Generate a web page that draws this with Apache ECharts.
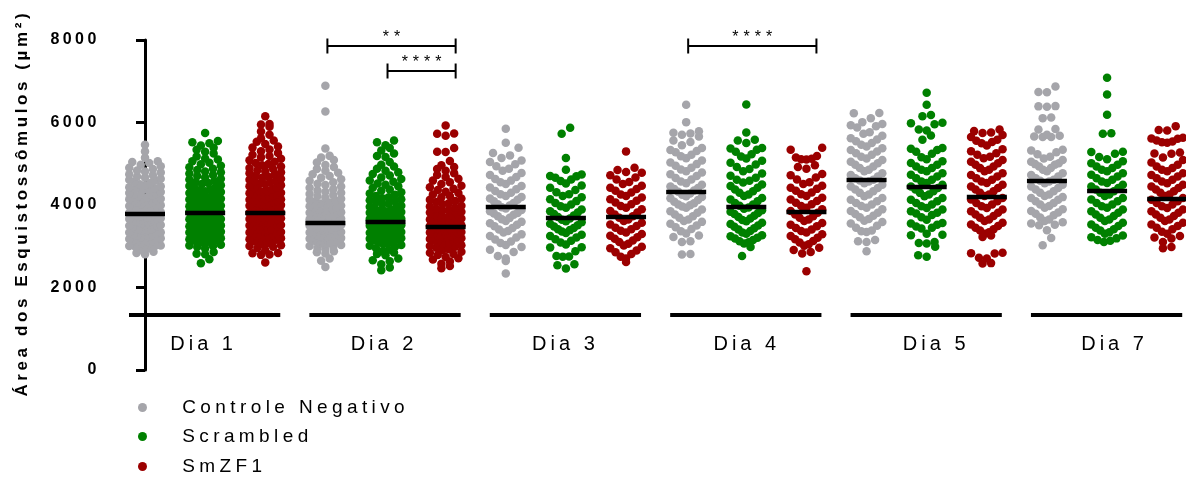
<!DOCTYPE html>
<html><head><meta charset="utf-8">
<script src="https://cdn.jsdelivr.net/npm/echarts@6/dist/echarts.min.js"></script>
<style>html,body{margin:0;padding:0;background:#fff}#c{width:1186px;height:477px}</style>
</head><body><div id="c"></div><script>
// ---------- DATA ----------
const days = ['Dia 1','Dia 2','Dia 3','Dia 4','Dia 5','Dia 7'];
const treatments = ['Controle Negativo','Scrambled','SmZF1'];
const yTicks = [0,2000,4000,6000,8000];

const ctrl_d1 = [2807,2838,2866,2912,2947,2979,2993,3006,3021,3044,3058,3087,3103,3119,3142,3158,3177,3196,3203,3224,3237,3259,3268,3291,3306,3333,3341,3362,3379,3397,3401,3417,3428,3452,3463,3484,3498,3517,3529,3553,3561,3582,3596,3604,3618,3627,3648,3659,3676,3688,3707,3719,3738,3748,3767,3779,3797,3812,3822,3843,3857,3878,3889,3913,3921,3948,3958,3977,3992,4011,4027,4043,4063,4078,4102,4113,4138,4149,4172,4188,4212,4228,4253,4271,4293,4318,4347,4362,4391,4406,4428,4457,4481,4503,4532,4558,4591,4612,4637,4668,4689,4722,4748,4786,4813,4838,4872,4903,4942,4978,5021,5041,5062,5147,5300,5462];
const scr_d1 = [2590,2686,2807,2818,2861,2944,2981,3004,3019,3036,3062,3088,3112,3133,3151,3171,3192,3207,3223,3244,3262,3281,3301,3317,3336,3351,3372,3389,3405,3418,3439,3454,3471,3487,3506,3521,3541,3555,3575,3591,3602,3619,3632,3652,3663,3681,3696,3713,3727,3746,3759,3777,3793,3806,3822,3837,3856,3869,3887,3901,3921,3935,3953,3969,3989,4007,4027,4041,4062,4077,4097,4113,4134,4151,4171,4187,4211,4232,4249,4269,4289,4313,4333,4357,4379,4411,4431,4459,4479,4507,4532,4559,4584,4616,4639,4669,4701,4729,4766,4791,4811,4846,4879,4916,4949,4986,5022,5058,5101,5129,5176,5251,5292,5338,5386,5441,5498,5521,5549,5743];
const smz_d1 = [2606,2791,2801,2829,2836,2902,2958,2986,3007,3026,3049,3071,3094,3113,3129,3156,3169,3193,3204,3221,3237,3257,3274,3291,3311,3331,3347,3367,3383,3399,3406,3417,3437,3449,3469,3484,3501,3518,3535,3551,3567,3582,3598,3603,3618,3631,3649,3660,3678,3689,3707,3721,3739,3753,3771,3785,3799,3809,3821,3840,3852,3869,3883,3901,3916,3934,3947,3965,3979,3997,4006,4023,4039,4057,4071,4091,4107,4126,4141,4161,4177,4196,4209,4225,4246,4261,4283,4299,4322,4339,4361,4384,4411,4431,4456,4477,4501,4523,4549,4571,4596,4613,4637,4663,4687,4713,4739,4769,4791,4816,4841,4871,4899,4933,4961,4991,5019,5049,5086,5119,5156,5187,5216,5259,5301,5344,5391,5421,5479,5531,5566,5621,5702,5784,5899,5953,5961,6154];

const ctrl_d2 = [2500,2651,2703,2824,2852,2879,2921,2956,2991,3008,3029,3053,3072,3096,3117,3139,3161,3179,3197,3112,3066,3205,3222,3239,3259,3275,3295,3309,3331,3347,3366,3381,3398,3288,3406,3421,3434,3453,3465,3483,3496,3513,3527,3546,3559,3576,3591,3608,3623,3641,3656,3673,3689,3709,3724,3743,3759,3779,3794,3811,3827,3847,3865,3885,3904,3926,3944,3967,3987,4012,4035,4059,4081,4106,4129,4153,4177,4216,4241,4267,4296,4321,4351,4379,4421,4451,4486,4517,4553,4587,4626,4661,4701,4746,4784,4831,4874,4921,4969,5031,5089,5151,5191,5372,6268,6890];
const scr_d2 = [2420,2483,2561,2638,2662,2701,2783,2811,2846,2881,2914,2951,2986,3011,3029,3052,3071,3095,3114,3138,3157,3179,3195,3206,3223,3241,3257,3276,3292,3312,3328,3347,3363,3382,3396,3404,3418,3435,3449,3466,3480,3498,3511,3529,3543,3561,3575,3593,3607,3624,3639,3658,3673,3693,3709,3729,3745,3765,3781,3797,3813,3829,3851,3869,3891,3911,3935,3955,3979,4016,4039,4065,4089,4116,4139,4166,4189,4221,4249,4281,4309,4343,4374,4421,4454,4491,4524,4561,4594,4631,4669,4713,4754,4791,4831,4879,4931,4976,5041,5163,5188,5251,5321,5379,5449,5521,5566];
const smz_d2 = [2468,2521,2574,2631,2679,2711,2739,2789,2812,2841,2869,2901,2929,2961,2989,3006,3025,3041,3061,3079,3101,3117,3138,3155,3176,3193,3204,3218,3236,3250,3268,3282,3301,3315,3333,3348,3367,3381,3398,3405,3422,3437,3456,3471,3491,3507,3527,3543,3563,3579,3597,3611,3629,3651,3670,3693,3712,3736,3756,3780,3797,3816,3837,3863,3885,3911,3934,3961,3984,4019,4044,4073,4099,4129,4155,4186,4221,4254,4291,4324,4361,4391,4431,4469,4511,4549,4591,4636,4679,4726,4769,4831,4874,4921,4964,5065,5283,5291,5380,5680,5728,5736,5929];

const ctrl_d3 = [2340,2641,2703,2762,2863,2918,2984,3029,3081,3118,3166,3214,3251,3288,3331,3372,3408,3444,3482,3519,3556,3591,3613,3652,3688,3726,3761,3792,3809,3846,3879,3917,3948,3986,4016,4049,4091,4126,4158,4194,4221,4262,4298,4341,4379,4422,4463,4512,4553,4591,4629,4681,4729,4778,4831,4879,4942,4989,5042,5081,5138,5203,5262,5389,5510,5849];
const scr_d3 = [2461,2541,2561,2743,2751,2762,2880,2969,2977,3041,3089,3131,3172,3211,3246,3281,3319,3356,3391,3411,3441,3476,3509,3546,3581,3606,3641,3674,3711,3746,3779,3816,3851,3889,3931,3969,4011,4051,4094,4141,4186,4216,4261,4309,4361,4421,4471,4524,4579,4621,4659,4694,4701,4741,4857,5138,5728,5873];
const smz_d3 = [2621,2701,2743,2811,2852,2899,2951,2989,3021,3059,3101,3139,3181,3216,3254,3296,3334,3376,3411,3449,3491,3529,3571,3611,3649,3691,3729,3771,3816,3854,3896,3934,3976,4021,4059,4101,4139,4181,4216,4254,4301,4344,4389,4421,4464,4511,4556,4621,4669,4721,4779,4801,4851,4905,5300];

const ctrl_d4 = [2800,2812,3105,3121,3226,3262,3309,3361,3421,3459,3501,3544,3591,3611,3649,3691,3729,3771,3814,3851,3889,3931,3964,3996,4011,4044,4081,4119,4161,4194,4211,4246,4279,4321,4354,4389,4411,4449,4491,4529,4571,4616,4654,4701,4744,4789,4821,4859,4906,4949,4991,5031,5079,5131,5179,5221,5279,5307,5331,5379,5451,5525,5561,5661,5701,5735,5751,5789,6009,6430];
const scr_d4 = [2766,2984,3066,3099,3121,3151,3189,3209,3241,3268,3301,3332,3371,3409,3439,3471,3501,3539,3571,3604,3639,3671,3709,3741,3779,3809,3839,3871,3909,3941,3979,4011,4051,4089,4131,4171,4216,4254,4296,4336,4374,4421,4461,4499,4546,4589,4611,4659,4711,4761,4819,4871,4921,4979,5026,5074,5126,5174,5231,5289,5341,5372,5381,5501,5566,5579,5760,6437];
const smz_d4 = [2396,2824,2861,2909,2961,3011,3049,3091,3129,3171,3209,3251,3289,3331,3369,3406,3444,3486,3524,3566,3611,3649,3691,3729,3769,3814,3856,3894,3936,3974,4016,4054,4096,4134,4176,4221,4259,4301,4344,4391,4421,4464,4511,4554,4621,4669,4719,4751,4881,4921,4966,5106,5111,5121,5151,5189,5340,5389];

const ctrl_d5 = [2880,3105,3121,3151,3347,3361,3381,3451,3499,3551,3589,3621,3659,3701,3739,3781,3814,3856,3894,3936,3974,4011,4049,4091,4129,4171,4214,4256,4294,4336,4374,4411,4449,4491,4529,4571,4594,4611,4649,4691,4729,4771,4816,4854,4896,4934,4976,5011,5049,5091,5129,5171,5216,5254,5296,5334,5376,5421,5459,5501,5544,5589,5621,5679,5728,5761,5879,5912,5931,5961,6009,6101,6227,6231];
const scr_d5 = [2743,2783,2990,3066,3081,3101,3267,3281,3301,3431,3449,3481,3519,3551,3561,3641,3701,3759,3792,3811,3849,3891,3929,3971,4011,4049,4091,4129,4171,4214,4256,4294,4336,4376,4411,4449,4491,4531,4569,4611,4649,4691,4731,4769,4816,4854,4896,4934,4976,5021,5059,5111,5159,5241,5289,5331,5366,5381,5583,5687,5808,5831,5959,5981,5993,6154,6181,6430,6720];
const smz_d5 = [2582,2591,2701,2721,2824,2831,2841,3226,3261,3301,3339,3381,3411,3449,3491,3529,3571,3611,3649,3691,3731,3769,3811,3849,3891,3929,3971,4011,4049,4091,4131,4169,4216,4254,4296,4334,4376,4411,4449,4491,4531,4569,4611,4649,4691,4729,4771,4816,4854,4894,4936,4974,5011,5049,5091,5131,5169,5216,5254,5301,5349,5441,5499,5526,5559,5581,5651,5699,5743,5759,5791,5830];

const ctrl_d7 = [3025,3202,3388,3509,3521,3549,3581,3611,3651,3699,3751,3789,3816,3854,3896,3934,3976,4011,4049,4091,4129,4171,4191,4216,4254,4296,4334,4376,4411,4449,4491,4529,4571,4589,4611,4649,4691,4729,4771,4816,4854,4896,4934,4974,4991,5011,5049,5091,5129,5171,5231,5281,5324,5341,5646,5651,5661,5681,5701,5832,5841,6106,6121,6381,6391,6397,6735,6741,6873];
const scr_d7 = [3105,3131,3149,3191,3221,3259,3301,3339,3381,3411,3449,3491,3529,3571,3611,3649,3691,3731,3769,3811,3851,3889,3931,3969,4011,4049,4091,4131,4171,4216,4254,4296,4336,4374,4411,4451,4489,4531,4569,4611,4651,4689,4731,4769,4816,4854,4896,4934,4976,5011,5061,5109,5161,5241,5283,5291,5728,5741,6188,6679,7083];
const smz_d7 = [2951,2984,3101,3187,3211,3249,3301,3349,3411,3449,3491,3529,3571,3611,3649,3691,3731,3769,3811,3849,3891,3929,3971,4011,4049,4091,4129,4171,4216,4254,4296,4334,4376,4411,4449,4491,4529,4571,4611,4649,4691,4729,4771,4816,4854,4896,4934,4976,5031,5089,5151,5244,5251,5271,5511,5521,5541,5561,5607,5611,5631,5808,5821,5912];

// central (median) lines per day
const median_ctrl = [3782,3565,3952,4315,4605,4581];
const median_scr  = [3807,3589,3686,3952,4436,4339];
const median_smz  = [3807,3468,3710,3831,4194,4146];

// significance brackets: day index, from treatment, to treatment, stars
const sig_day   = [1,1,3];
const sig_from  = [0,1,0];
const sig_to    = [2,2,2];
const sig_stars = ['**','****','****'];

// ---------- LAYOUT ----------
const W = 1186, H = 477;
const GL = 115, GR = 0, GT = 40, GB = 107;
const PPU = 60.13;           // pixels per column
const FIRST_COL_PX = 145;
const XMIN = -(FIRST_COL_PX - GL) / PPU;
const XMAX = XMIN + (W - GL - GR) / PPU;
const DOT = 8.5, SPAN = 31.5;
const FONT = 'Liberation Sans, Arial, sans-serif';
const COLORS = ['#a5a5aa', '#008000', '#9b0000'];
const LEGEND_ROWS = [408, 437, 467];
const LABEL_NUDGE = [-3, -3, -2, -1, 8, 6];   // px shift of day labels

function spaced(str, cls) {
  return Array.from(str).map(ch => '{' + cls + '|' + ch + '}').join('');
}

// Prism-like scatter dot layout: values binned by row, lowest in centre
function swarm(values, col) {
  const BIN = values.length > 90 ? 160 : 300;   // denser columns -> finer rows
  const bins = new Map();
  values.forEach(v => {
    const k = Math.floor(v / BIN);
    if (!bins.has(k)) bins.set(k, []);
    bins.get(k).push(v);
  });
  const out = [];
  bins.forEach(arr => {
    arr.sort((a, b) => a - b);
    const n = arr.length;
    const s = n > 1 ? Math.min(DOT, SPAN / (n - 1)) : 0;
    const c = (n - 1) / 2;
    const slots = [...Array(n).keys()].sort((a, b) => (Math.abs(a - c) - Math.abs(b - c)) || (a - b));
    arr.forEach((v, i) => {
      const off = (slots[i] - c) * s;
      out.push([col + off / PPU, v]);
    });
  });
  return out;
}

const byTreatment = [
  [ctrl_d1, ctrl_d2, ctrl_d3, ctrl_d4, ctrl_d5, ctrl_d7],
  [scr_d1, scr_d2, scr_d3, scr_d4, scr_d5, scr_d7],
  [smz_d1, smz_d2, smz_d3, smz_d4, smz_d5, smz_d7]
];
const medians = [median_ctrl, median_scr, median_smz];

const pointSeries = treatments.map((name, t) => ({
  type: 'scatter', name, symbol: 'circle', symbolSize: DOT,
  itemStyle: { color: COLORS[t], opacity: 1 },
  emphasis: { disabled: true }, silent: true, animation: false,
  data: byTreatment[t].flatMap((vals, d) => swarm(vals, d * 3 + t))
}));

const medianData = [];
medians.forEach((arr, t) => arr.forEach((m, d) => medianData.push([d * 3 + t, m])));

const legends = treatments.map((name, t) => ({
  data: [name], orient: 'vertical', left: 138, top: LEGEND_ROWS[t] - 10, padding: 0,
  itemWidth: 9, itemHeight: 9, icon: 'circle', selectedMode: false,
  formatter: n => '{sp| }' + spaced(n, 'l'),
  textStyle: { rich: { sp: { width: 28, fontSize: 19 }, l: { fontFamily: FONT, fontSize: 19, color: '#000', padding: [0, 2.2, 0, 2.2], lineHeight: 20 } } }
}));

const chart = echarts.init(document.getElementById('c'), null, { renderer: 'canvas' });
chart.setOption({
  animation: false,
  backgroundColor: '#fff',
  textStyle: { fontFamily: FONT },
  grid: { left: GL, right: GR, top: GT, bottom: GB },
  xAxis: { type: 'value', min: XMIN, max: XMAX, show: false },
  yAxis: {
    type: 'value', min: yTicks[0], max: yTicks[yTicks.length - 1], interval: yTicks[1] - yTicks[0],
    axisLine: { show: true, lineStyle: { color: '#000', width: 3 } },
    axisTick: { show: true, length: 9, lineStyle: { color: '#000', width: 3 } },
    splitLine: { show: false },
    axisLabel: {
      margin: 17, fontFamily: FONT, fontWeight: 'bold', fontSize: 16, color: '#000',
      formatter: v => spaced(String(v), 't'),
      rich: { t: { fontFamily: FONT, fontWeight: 'bold', fontSize: 16, color: '#000', padding: [0, 1.7, 0, 1.7] } }
    },
    name: spaced('Área dos Esquistossômulos (µm²)', 'n'),
    nameLocation: 'middle', nameRotate: 90, nameGap: 84,
    nameTextStyle: { rich: { n: { fontFamily: FONT, fontWeight: 'bold', fontSize: 17, color: '#000', padding: [0, 1.8, 0, 1.8] } } }
  },
  legend: legends,
  series: [
    ...pointSeries,
    {
      type: 'scatter', name: 'median', symbol: 'rect', symbolSize: [40, 4.5], z: 5,
      itemStyle: { color: '#000', opacity: 1 }, silent: true, data: medianData
    },
    {
      type: 'custom', name: 'groups', silent: true, clip: false, z: 4,
      data: days.map((d, i) => [i * 3, i * 3 + 2]),
      renderItem: (params, api) => {
        const g = params.dataIndex;
        const p0 = api.coord([api.value(0), 0]);
        const p1 = api.coord([api.value(1), 0]);
        const x1 = p0[0] - 16, x2 = p1[0] + 15;
        const yl = p0[1] - 55;
        return { type: 'group', children: [
          { type: 'rect', shape: { x: x1, y: yl - 2, width: x2 - x1, height: 4 }, style: { fill: '#000' } },
          { type: 'text', x: (x1 + x2) / 2 + LABEL_NUDGE[g], y: yl + 29, style: {
              text: spaced(days[g], 'd'), align: 'center', verticalAlign: 'middle',
              rich: { d: { fontFamily: FONT, fontSize: 20, fill: '#000', padding: [0, 2, 0, 2] } } } }
        ]};
      }
    },
    {
      type: 'custom', name: 'sig', silent: true, clip: false, z: 4,
      data: sig_day.map((d, i) => [d * 3 + sig_from[i], d * 3 + sig_to[i]]),
      renderItem: (params, api) => {
        const i = params.dataIndex;
        const a = api.coord([api.value(0), yTicks[yTicks.length - 1]]);
        const b = api.coord([api.value(1), yTicks[yTicks.length - 1]]);
        const level = (i === 1) ? 1 : 0;
        const y = a[1] + 6 + level * 25;
        const x1 = a[0] + 2, x2 = b[0] + 10;
        const st = { stroke: '#000', lineWidth: 2 };
        return { type: 'group', children: [
          { type: 'line', shape: { x1, y1: y, x2, y2: y }, style: st },
          { type: 'line', shape: { x1, y1: y - 7.5, x2: x1, y2: y + 7.5 }, style: st },
          { type: 'line', shape: { x1: x2, y1: y - 7.5, x2, y2: y + 7.5 }, style: st },
          { type: 'text', x: (x1 + x2) / 2, y: y - 8, style: {
              text: spaced(sig_stars[i], 's'), align: 'center', verticalAlign: 'middle',
              rich: { s: { fontFamily: FONT, fontSize: 16, fill: '#000', padding: [0, 2.5, 0, 2.5] } } } }
        ]};
      }
    }
  ]
});
</script></body></html>
